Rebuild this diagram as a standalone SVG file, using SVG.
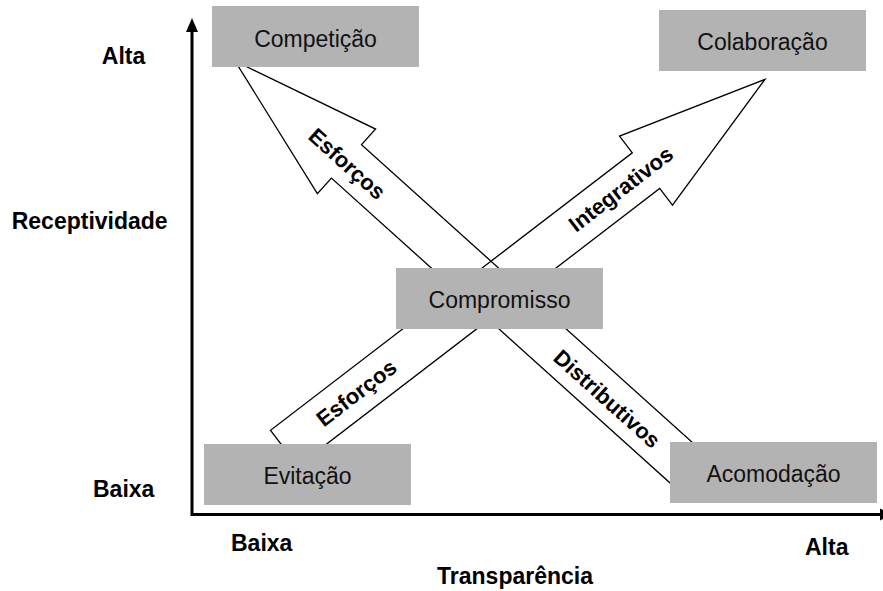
<svg xmlns="http://www.w3.org/2000/svg" width="883" height="591" viewBox="0 0 883 591">
<style>
.box{fill:#b3b3b3;stroke:none}
.bt{font-family:"Liberation Sans",Arial,sans-serif;font-size:23px;fill:#111;text-anchor:middle}
.ax{font-family:"Liberation Sans",Arial,sans-serif;font-size:23px;font-weight:bold;fill:#000;text-anchor:middle}
.al{font-family:"Liberation Sans",Arial,sans-serif;font-size:22px;font-weight:bold;fill:#000;text-anchor:middle}
.arr{fill:none;stroke:#000;stroke-width:1.3;stroke-linejoin:miter}
</style>
<rect width="883" height="591" fill="#fff"/>
<g id="axes">
<path d="M192,30 V514.5 H881" fill="none" stroke="#000" stroke-width="3"/>
<polygon points="192,18 186,32 198,32" fill="#000"/>
<polygon points="893,514.5 880,508.5 880,520.5" fill="#000"/>
<text class="ax" x="123.5" y="64">Alta</text>
<text class="ax" x="89.7" y="229">Receptividade</text>
<text class="ax" x="123.7" y="497">Baixa</text>
<text class="ax" x="261.7" y="551">Baixa</text>
<text class="ax" x="826.7" y="555">Alta</text>
<text class="ax" x="515" y="584">Transparência</text>
</g>
<g id="connectors">
<polygon class="arr" transform="translate(235,61) rotate(42)" points="0,0 150,-43.5 150,-22.5 620,-22.5 620,22.5 150,22.5 150,43.5"/>
<polygon class="arr" transform="translate(765,79.3) rotate(142.5)" points="0,0 150,-43.5 150,-22.5 606,-22.5 606,22.5 150,22.5 150,43.5"/>
<text class="al" transform="translate(342,169.5) rotate(42)">Esforços</text>
<text class="al" transform="translate(602,404.5) rotate(42)">Distributivos</text>
<text class="al" transform="translate(361,399) rotate(-37.5)">Esforços</text>
<text class="al" transform="translate(625.5,195) rotate(-37.5)">Integrativos</text>
</g>
<g id="competicao"><rect class="box" x="212" y="6" width="207" height="61"/><text class="bt" x="315.5" y="46.5">Competição</text></g>
<g id="colaboracao"><rect class="box" x="659" y="10" width="207" height="61"/><text class="bt" x="762.5" y="50">Colaboração</text></g>
<g id="compromisso"><rect class="box" x="396" y="268" width="207" height="61"/><text class="bt" x="499.5" y="308">Compromisso</text></g>
<g id="evitacao"><rect class="box" x="204" y="444" width="207" height="61"/><text class="bt" x="307.5" y="484">Evitação</text></g>
<g id="acomodacao"><rect class="box" x="670" y="442" width="207" height="61"/><text class="bt" x="773.5" y="482">Acomodação</text></g>
</svg>
